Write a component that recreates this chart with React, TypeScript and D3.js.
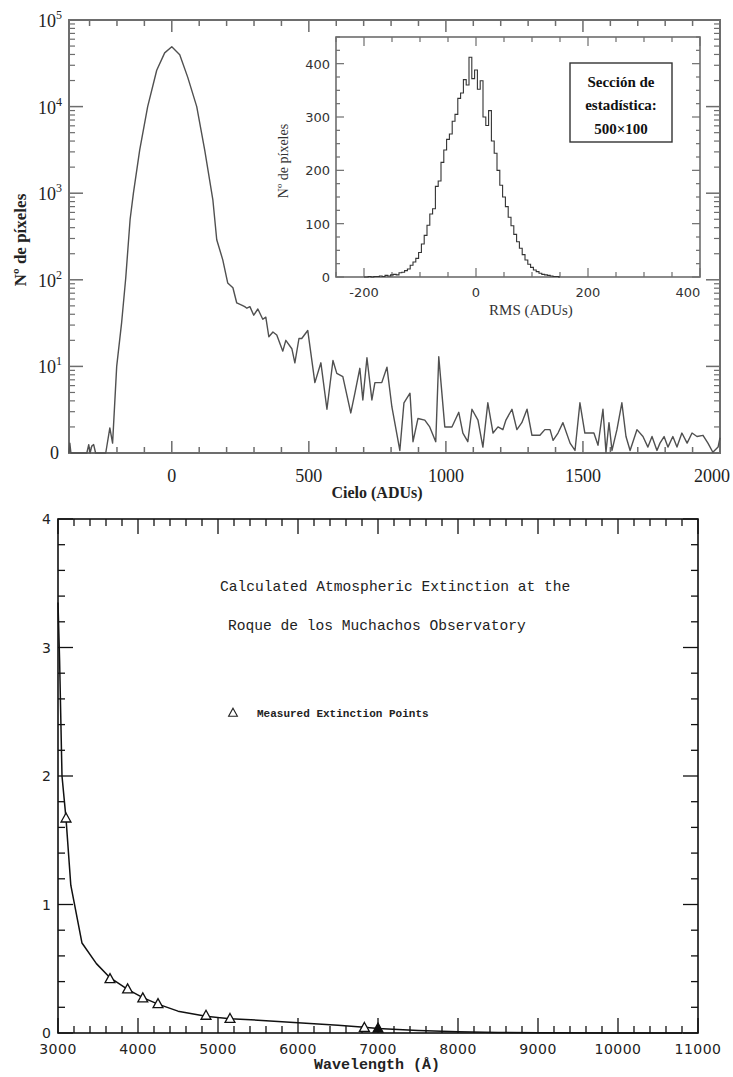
import React from "react";
import * as d3 from "d3";

// ---------- Top chart: sky histogram (log) ----------
const mainX = [-375, -372, -368, -310, -303, -298, -292, -285, -278, -241, -226, -216, -201, -183, -168, -152, -140, -117, -88, -55, -26, 0, 29, 58, 91, 120, 150, 164, 186, 204, 223, 237, 255, 266, 274, 285, 299, 314, 332, 343, 354, 369, 383, 405, 416, 438, 449, 464, 474, 496, 522, 544, 566, 588, 602, 624, 653, 668, 686, 697, 712, 730, 741, 766, 785, 803, 832, 847, 869, 880, 898, 923, 941, 963, 974, 996, 1022, 1047, 1062, 1080, 1095, 1117, 1135, 1153, 1172, 1190, 1208, 1219, 1241, 1259, 1277, 1296, 1314, 1343, 1361, 1380, 1391, 1409, 1427, 1453, 1471, 1489, 1507, 1526, 1540, 1555, 1573, 1584, 1595, 1606, 1624, 1642, 1657, 1672, 1697, 1719, 1737, 1752, 1770, 1781, 1796, 1810, 1828, 1843, 1861, 1880, 1898, 1916, 1938, 1956, 1974, 1993, 2000];
const mainCount = [1, 1.3, 1, 1, 1.25, 1, 1.2, 1.25, 1, 1, 1.95, 1.3, 10, 32, 105, 500, 1000, 3160, 10000, 26300, 41700, 49000, 39800, 21900, 10000, 3160, 830, 290, 170, 92, 81, 54, 51, 49, 47, 49, 39, 46, 35, 37, 22, 25, 23, 15, 20, 16, 11, 21, 21, 26, 6.5, 11, 3.2, 11.7, 8.3, 7.6, 2.9, 4.9, 9.5, 4.1, 12.6, 4.1, 6.5, 6.5, 9.8, 3.4, 1.07, 3.8, 4.9, 1.35, 2.5, 2.4, 2.0, 1.35, 12.9, 2.0, 2.0, 2.95, 1.7, 1.35, 3.2, 2.4, 1.17, 3.8, 1.7, 2.0, 1.86, 2.4, 3.2, 1.86, 2.24, 3.2, 1.6, 1.6, 1.86, 1.86, 1.4, 1.7, 2.24, 1.3, 1.07, 3.8, 1.7, 1.7, 1.7, 1.23, 3.2, 1.02, 2.24, 1.07, 1.86, 3.8, 1.55, 1.07, 1.86, 1.55, 1.17, 1.55, 1.07, 1.3, 1.55, 1.17, 1.55, 1.17, 1.7, 1.3, 1.7, 1.55, 1.6, 1.3, 1.02, 1.17, 1.5];
const mainXTicks = [0, 500, 1000, 1500, 2000];
const mainYTicks = [1, 10, 100, 1000, 10000, 100000];
const mainYExp = ["0", "1", "2", "3", "4", "5"];

// ---------- Inset: RMS histogram ----------
const insetBin = [-200, -195, -190, -185, -180, -175, -170, -165, -160, -155, -150, -145, -140, -135, -130, -125, -120, -115, -110, -105, -100, -95, -90, -85, -80, -75, -70, -65, -60, -55, -50, -45, -40, -35, -30, -25, -20, -15, -10, -5, 0, 5, 10, 15, 20, 25, 30, 35, 40, 45, 50, 55, 60, 65, 70, 75, 80, 85, 90, 95, 100, 105, 110, 115, 120, 125, 130, 135, 140, 145, 150];
const insetCount = [0, 0, 1, 0, 1, 1, 2, 1, 3, 2, 4, 5, 4, 8, 9, 12, 15, 22, 28, 35, 46, 62, 78, 97, 118, 128, 170, 180, 215, 238, 258, 268, 292, 305, 335, 345, 370, 360, 412, 372, 388, 352, 368, 300, 284, 312, 255, 232, 200, 172, 150, 132, 112, 96, 80, 66, 54, 42, 32, 24, 18, 13, 10, 7, 5, 4, 3, 2, 1, 1, 0];
const insetXTicks = [-200, 0, 200, 400];
const insetYTicks = [0, 100, 200, 300, 400];

// ---------- Bottom chart: extinction ----------
const extWave = [3000, 3020, 3050, 3100, 3160, 3300, 3480, 3650, 3870, 4060, 4250, 4500, 4850, 5150, 5500, 6000, 6500, 6830, 7000, 7500, 8000, 8500, 9000, 10000, 10800];
const extValue = [3.35, 2.9, 2.0, 1.67, 1.15, 0.7, 0.54, 0.43, 0.34, 0.275, 0.225, 0.17, 0.13, 0.11, 0.1, 0.08, 0.06, 0.045, 0.035, 0.02, 0.01, 0.004, 0.002, 0, 0];
const measWave = [3100, 3650, 3870, 4060, 4250, 4850, 5150, 6830, 7000];
const measValue = [1.67, 0.42, 0.34, 0.27, 0.225, 0.135, 0.11, 0.04, 0.035];
const extXTicks = [3000, 4000, 5000, 6000, 7000, 8000, 9000, 10000, 11000];
const extYTicks = [0, 1, 2, 3, 4];

const serif = "'Liberation Serif', 'DejaVu Serif', serif";
const mono = "'Liberation Mono', 'DejaVu Sans Mono', monospace";
const sans = "'DejaVu Sans', sans-serif";

export default function App() {
  // top main
  const mx = d3.scaleLinear().domain([-375, 2000]).range([69, 720]);
  const my = d3.scaleLog().domain([1, 1e5]).range([453, 20]);
  const mainLine = d3
    .line<number>()
    .x((_, i) => mx(mainX[i]))
    .y((d) => my(d))(mainCount) as string;

  const mainMinorX = d3.range(-300, 2001, 100);
  const mainMinorY: number[] = [];
  for (let e = 0; e < 5; e++) for (let k = 2; k <= 9; k++) mainMinorY.push(k * Math.pow(10, e));

  // inset
  const ix = d3.scaleLinear().domain([-250, 400]).range([336, 700]);
  const iy = d3.scaleLinear().domain([0, 450]).range([277, 37]);
  const insetLine = d3
    .line<number>()
    .x((_, i) => ix(insetBin[i]))
    .y((d) => iy(d))
    .curve(d3.curveStep)(insetCount) as string;
  const insetMinorX = d3.range(-250, 401, 50);
  const insetMinorY = d3.range(0, 451, 25);

  // bottom
  const bx = d3.scaleLinear().domain([3000, 11000]).range([58, 698]);
  const by = d3.scaleLinear().domain([0, 4]).range([1033, 519]);
  const extLine = d3
    .line<number>()
    .x((_, i) => bx(extWave[i]))
    .y((d) => by(d))(extValue) as string;
  const extMinorX = d3.range(3000, 11001, 200);
  const extMinorY = d3.range(0, 4.001, 0.2);

  const gray = "#6d6d6d";
  const [mL, mR] = mx.range();
  const [mB, mT] = my.range();
  const [iL, iR] = ix.range();
  const [iB, iT] = iy.range();
  const [bL, bR] = bx.range();
  const [bB, bT] = by.range();

  const tri = (cx: number, cy: number, s: number) =>
    `M${cx},${cy - s * 0.6}L${cx + s * 0.55},${cy + s * 0.4}L${cx - s * 0.55},${cy + s * 0.4}Z`;

  return (
    <svg
      width={733}
      height={1077}
      viewBox="0 0 733 1077"
      style={{ position: "absolute", left: 0, top: 0, background: "#fff" }}
    >
      <rect x={0} y={0} width={733} height={1077} fill="#fff" />

      {/* ===== TOP MAIN CHART ===== */}
      <g>
        {mainMinorX.map((v) => {
          const major = mainXTicks.includes(v);
          const L = major ? 12 : 6;
          return (
            <g key={"mxt" + v} stroke={gray} strokeWidth={1.5}>
              <line x1={mx(v)} x2={mx(v)} y1={mB} y2={mB - L} />
              <line x1={mx(v)} x2={mx(v)} y1={mT} y2={mT + L} />
            </g>
          );
        })}
        {mainYTicks.map((v) => (
          <g key={"myt" + v} stroke={gray} strokeWidth={1.5}>
            <line x1={mL} x2={mL + 14} y1={my(v)} y2={my(v)} />
            <line x1={mR} x2={mR - 14} y1={my(v)} y2={my(v)} />
          </g>
        ))}
        {mainMinorY.map((v) => (
          <g key={"mym" + v} stroke={gray} strokeWidth={1.2}>
            <line x1={mL} x2={mL + 6} y1={my(v)} y2={my(v)} />
            <line x1={mR} x2={mR - 6} y1={my(v)} y2={my(v)} />
          </g>
        ))}
        <rect x={mL} y={mT} width={mR - mL} height={mB - mT} fill="none" stroke={gray} strokeWidth={2} />
        <path d={mainLine} fill="none" stroke="#505050" strokeWidth={1.4} strokeLinejoin="round" />

        {mainYTicks.map((v, i) =>
          i === 0 ? (
            <text key={"myl" + v} x={59} y={my(v) + 6} textAnchor="end" fontFamily={serif} fontSize={18} fill="#222">
              0
            </text>
          ) : (
            <text key={"myl" + v} x={62} y={my(v) + 7} textAnchor="end" fontFamily={serif} fontSize={18} fill="#222">
              10
              <tspan dy={-8} fontSize={12}>
                {mainYExp[i]}
              </tspan>
            </text>
          )
        )}
        {mainXTicks.map((v) => (
          <text
            key={"mxl" + v}
            x={v === 2000 ? mx(v) - 8 : mx(v)}
            y={482}
            textAnchor="middle"
            fontFamily={serif}
            fontSize={18}
            fill="#222"
          >
            {v}
          </text>
        ))}
        <text x={377} y={498} textAnchor="middle" fontFamily={serif} fontSize={16} fontWeight="bold" fill="#222">
          Cielo (ADUs)
        </text>
        <text
          transform={`translate(26,240) rotate(-90)`}
          textAnchor="middle"
          fontFamily={serif}
          fontSize={17}
          fontWeight="bold"
          fill="#222"
        >
          Nº de píxeles
        </text>
      </g>

      {/* ===== INSET ===== */}
      <g>
        <rect x={iL} y={iT} width={iR - iL} height={iB - iT} fill="#fff" />
        {insetMinorX.map((v) => {
          const major = insetXTicks.includes(v);
          const L = major ? 9 : 5;
          return (
            <g key={"ixt" + v} stroke={gray} strokeWidth={1.2}>
              <line x1={ix(v)} x2={ix(v)} y1={iB} y2={iB - L} />
              <line x1={ix(v)} x2={ix(v)} y1={iT} y2={iT + L} />
            </g>
          );
        })}
        {insetMinorY.map((v) => {
          const major = insetYTicks.includes(v);
          const L = major ? 8 : 4;
          return (
            <g key={"iyt" + v} stroke={gray} strokeWidth={1.2}>
              <line x1={iL} x2={iL + L} y1={iy(v)} y2={iy(v)} />
              <line x1={iR} x2={iR - L} y1={iy(v)} y2={iy(v)} />
            </g>
          );
        })}
        <rect x={iL} y={iT} width={iR - iL} height={iB - iT} fill="none" stroke={gray} strokeWidth={1.6} />
        <path d={insetLine} fill="none" stroke="#333" strokeWidth={1.1} />
        {insetYTicks.map((v) => (
          <text key={"iyl" + v} x={iL - 6} y={iy(v) + 5} textAnchor="end" fontFamily={sans} fontSize={13} fill="#333">
            {v}
          </text>
        ))}
        {insetXTicks.map((v) => (
          <text
            key={"ixl" + v}
            x={v === 400 ? ix(v) - 12 : ix(v)}
            y={297}
            textAnchor="middle"
            fontFamily={sans}
            fontSize={13}
            fill="#333"
          >
            {v}
          </text>
        ))}
        <text x={531} y={315} textAnchor="middle" fontFamily={serif} fontSize={15} fill="#333">
          RMS (ADUs)
        </text>
        <text
          transform={`translate(288,161) rotate(-90)`}
          textAnchor="middle"
          fontFamily={serif}
          fontSize={14}
          fill="#333"
        >
          Nº de píxeles
        </text>
        <rect x={570} y={63} width={102} height={79} fill="#fff" stroke="#333" strokeWidth={1.4} />
        <g fontFamily={serif} fontSize={15} fontWeight="bold" fill="#111" textAnchor="middle">
          <text x={621} y={87}>Sección de</text>
          <text x={621} y={110}>estadística:</text>
          <text x={621} y={134}>500×100</text>
        </g>
      </g>

      {/* ===== BOTTOM CHART ===== */}
      <g>
        {extMinorX.map((v) => {
          const major = extXTicks.includes(v);
          const L = major ? 15 : 7;
          return (
            <g key={"bxt" + v} stroke="#111" strokeWidth={1.3}>
              <line x1={bx(v)} x2={bx(v)} y1={bB} y2={bB - L} />
              <line x1={bx(v)} x2={bx(v)} y1={bT} y2={bT + L} />
            </g>
          );
        })}
        {extMinorY.map((v, i) => {
          const major = i % 5 === 0;
          const L = major ? 15 : 7;
          return (
            <g key={"byt" + i} stroke="#111" strokeWidth={1.3}>
              <line x1={bL} x2={bL + L} y1={by(v)} y2={by(v)} />
              <line x1={bR} x2={bR - L} y1={by(v)} y2={by(v)} />
            </g>
          );
        })}
        <rect x={bL} y={bT} width={bR - bL} height={bB - bT} fill="none" stroke="#111" strokeWidth={1.6} />
        <path d={extLine} fill="none" stroke="#111" strokeWidth={1.5} strokeLinejoin="round" />
        {measWave.map((w, i) => (
          <path
            key={"m" + i}
            d={tri(bx(w), by(measValue[i]), 9)}
            fill={i === measWave.length - 1 ? "#111" : "#fff"}
            stroke="#111"
            strokeWidth={1.3}
          />
        ))}
        {extYTicks.map((v) => (
          <text key={"byl" + v} x={51} y={by(v) + 5} textAnchor="end" fontFamily={sans} fontSize={14} fill="#222">
            {v}
          </text>
        ))}
        {extXTicks.map((v) => (
          <text key={"bxl" + v} x={bx(v)} y={1054} textAnchor="middle" fontFamily={sans} fontSize={14} fill="#222" letterSpacing={0.5}>
            {v}
          </text>
        ))}
        <text x={377} y={1069} textAnchor="middle" fontFamily={mono} fontSize={15} fontWeight="bold" fill="#222">
          Wavelength (Å)
        </text>
        <g fontFamily={mono} fontSize={14.6} fill="#222">
          <text x={220} y={591}>Calculated Atmospheric Extinction at the</text>
          <text x={228} y={630}>Roque de los Muchachos Observatory</text>
        </g>
        <path d={tri(233, 713, 8)} fill="#fff" stroke="#222" strokeWidth={1.1} />
        <text x={257} y={717} fontFamily={mono} fontSize={11} fontWeight="bold" fill="#222">
          Measured Extinction Points
        </text>
      </g>
    </svg>
  );
}
